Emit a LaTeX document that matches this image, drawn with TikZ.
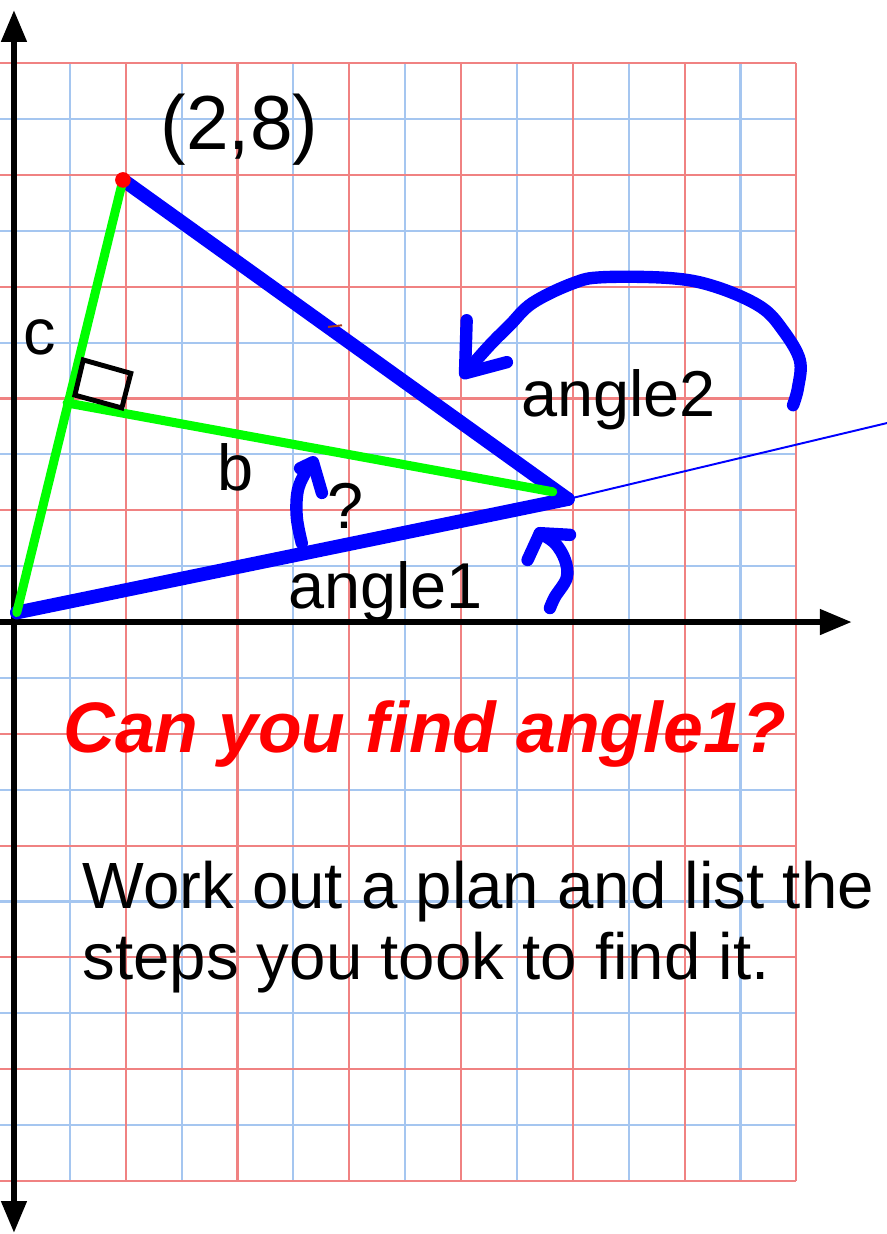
\documentclass[tikz,border=0pt]{standalone}
\usepackage{fontspec}
\setmainfont{Liberation Sans}
\usetikzlibrary{arrows.meta,positioning}
\definecolor{gridred}{RGB}{240,130,130}
\definecolor{gridblue}{RGB}{165,198,240}
\definecolor{markbrown}{RGB}{170,60,30}

\tikzset{
  redline/.style={draw=gridred, line width=1.1pt},
  blueline/.style={draw=gridblue, line width=1.1pt},
  axis/.style={line width=3pt},
  tip/.tip={Triangle[length=5.7mm,width=4.4mm]},
  side/.style={blue, line width=7pt, line cap=round},
  leg/.style={green, line width=4.6pt, line cap=round},
  scribble/.style={blue, line width=6.3pt, line cap=round, line join=round},
  lbl/.style={inner sep=0pt, anchor=base west, font=\fontsize{33}{40}\selectfont}
}

\begin{document}
\begin{tikzpicture}
  \path[fill=white, use as bounding box] (-0.25,-10.95) rectangle (15.62,11.13);

  % squared paper
  \foreach \y in {-9,-7,...,9} \draw[blueline] (-0.25,\y) -- (14,\y);
  \foreach \x in {1,3,...,13} \draw[blueline] (\x,-10) -- (\x,10);
  \foreach \y in {-10,-8,...,10} \draw[redline] (-0.25,\y) -- (14,\y);
  \foreach \x in {2,4,...,14} \draw[redline] (\x,-10) -- (\x,10);

  % axes
  \draw[axis, tip-tip] (0,-10.93) -- (0,10.95);
  \draw[axis, -tip] (-0.25,0) -- (14.99,0);

  % triangle
  \coordinate (O) at (0.05,0.17);
  \coordinate (A) at (1.95,7.91);
  \coordinate (V) at (9.91,2.20);
  \coordinate (F) at (0.95,3.92);
  \coordinate (G) at (9.64,2.33);
  \coordinate (ray) at (15.62,3.56);

  \draw[blue, line width=1pt] (V) -- (ray);
  \draw[side] (O) -- (V);
  \draw[side] (A) -- (V);
  \draw[markbrown, line width=1pt] (5.62,5.28) -- (5.87,5.31);
  \draw[leg] (O) -- (A);
  \draw[leg] (F) -- (G);
  \draw[line width=2.5pt] (1.09,4.06) -- (1.24,4.69) -- (2.09,4.45) -- (1.93,3.83) -- cycle;
  \fill[red] (A) circle (0.14);

  % hand drawn arrows
  \draw[scribble] plot[smooth, tension=0.6] coordinates {(13.94,3.88) (14.03,4.20) (14.06,4.69) (13.76,5.22) (13.36,5.64) (12.58,5.99) (11.79,6.15) (10.54,6.17) (10.00,6.06) (9.28,5.71) (8.87,5.31) (8.52,4.96) (8.12,4.51)};
  \draw[scribble] (8.10,5.40) -- (8.07,4.45) -- (8.82,4.65);
  \draw[scribble] plot[smooth, tension=0.6] coordinates {(9.59,0.25) (9.68,0.45) (9.89,0.79) (9.86,1.11) (9.68,1.41) (9.41,1.59)};
  \draw[scribble] (9.19,1.11) -- (9.41,1.59) -- (9.95,1.56);
  \draw[scribble] plot[smooth, tension=0.6] coordinates {(5.15,1.41) (5.06,1.88) (5.08,2.36) (5.24,2.72) (5.35,2.84)};
  \draw[scribble] (5.12,2.75) -- (5.35,2.86) -- (5.51,2.31);

  % labels
  \node[lbl, font=\fontsize{39}{46}\selectfont] (pt) at (2.62,8.46) {(2,8)};
  \node[lbl] (c) at (0.16,4.78) {c};
  \node[lbl] (b) at (3.63,2.36) {b};
  \node[lbl] (q) at (5.60,1.68) {?};
  \node[lbl] (ang2) at (9.07,3.67) {angle2};
  \node[lbl] (ang1) at (4.90,0.25) {angle1};
  \node[lbl, red, font=\fontsize{36.4}{43}\selectfont\bfseries\itshape] (ask) at (0.88,-2.33) {Can you find angle1?};
  \node[lbl, font=\fontsize{33.3}{40}\selectfont] (plan1) at (1.22,-5.12) {Work out a plan and list the};
  \node[lbl, font=\fontsize{33.3}{40}\selectfont] (plan2) at (1.22,-6.40) {steps you took to find it.};
\end{tikzpicture}
\end{document}
